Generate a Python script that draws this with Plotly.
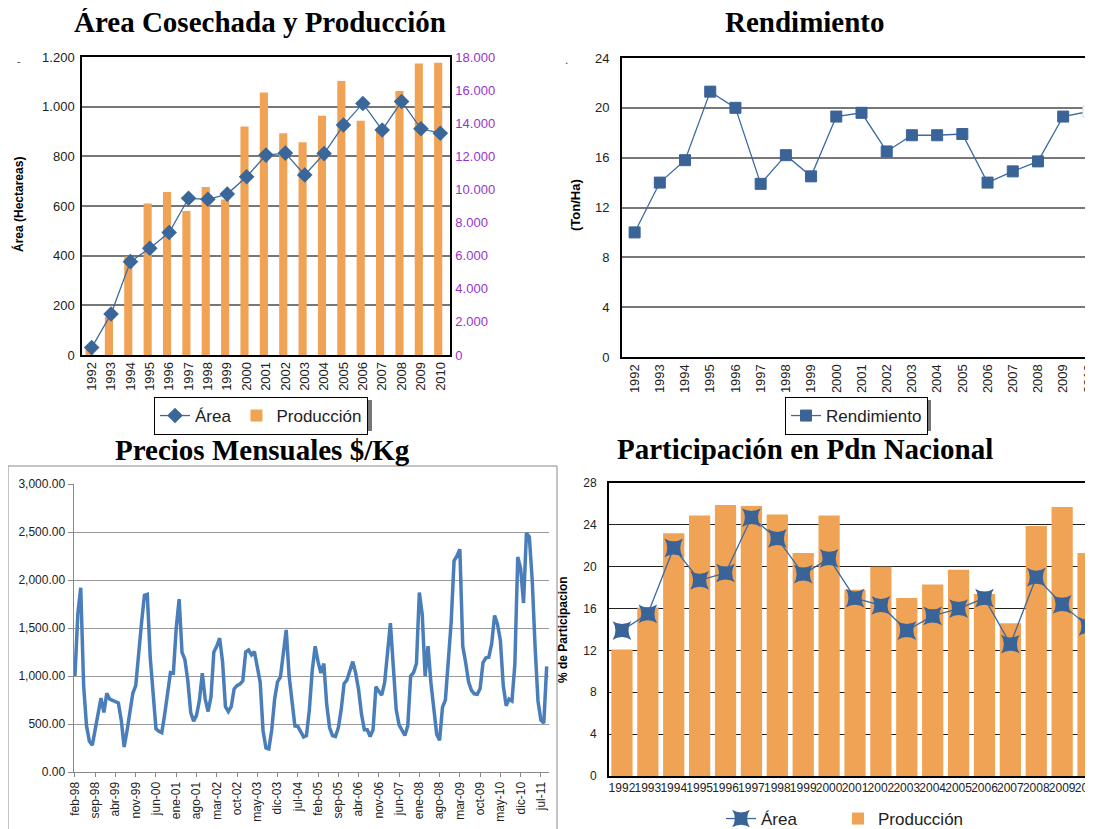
import plotly.graph_objects as go

W, H = 1093, 829
BODY = 8  # margen por defecto del <body> en la pagina

# --- datos -------------------------------------------------------------
anios = ['1992', '1993', '1994', '1995', '1996', '1997', '1998', '1999', '2000', '2001',
         '2002', '2003', '2004', '2005', '2006', '2007', '2008', '2009', '2010']

area_ha = [30, 165, 376, 430, 493, 631, 627, 648, 718, 805,
           813, 725, 811, 926, 1013, 906, 1021, 911, 893]
produccion_t = [350, 2300, 5950, 9150, 9850, 8700, 10150, 9400, 13800, 15850,
                13400, 12850, 14450, 16550, 14150, 13500, 15950, 17600, 17650]

rendimiento = [10.0, 14.0, 15.8, 21.3, 20.0, 13.9, 16.2, 14.5, 19.3, 19.6,
               16.5, 17.8, 17.8, 17.9, 14.0, 14.9, 15.7, 19.3, 19.7]

part_produccion = [12.1, 16.1, 23.2, 24.9, 25.9, 25.8, 25.0, 21.3, 24.9, 17.8,
                   20.0, 17.0, 18.3, 19.7, 17.4, 14.6, 23.9, 25.7, 21.3]
part_area = [13.9, 15.5, 21.8, 18.7, 19.4, 24.7, 22.7, 19.3, 20.8, 17.0,
             16.3, 13.9, 15.3, 16.0, 17.0, 12.6, 19.0, 16.4, 14.3]

# precios mensuales $/Kg desde feb-98
precios = [1000, 1650, 1920, 900, 480, 320, 280, 450, 640, 770, 620, 820,
           760, 745, 735, 720, 540, 260, 430, 600, 820, 900, 1250, 1550,
           1840, 1850, 1200, 800, 450, 425, 410, 600, 850, 1035, 1030, 1500,
           1800, 1245, 1170, 950, 620, 530, 590, 744, 1030, 760, 630, 780,
           1250, 1310, 1394, 1150, 680, 630, 680, 865, 900, 915, 950, 1250,
           1270, 1220, 1255, 1090, 935, 430, 250, 240, 440, 760, 940, 990,
           1270, 1480, 1000, 700, 480, 475, 410, 365, 380, 650, 1060, 1310,
           1150, 1030, 1130, 700, 460, 380, 370, 460, 650, 920, 960, 1060,
           1150, 1030, 860, 605, 440, 440, 370, 440, 890, 840, 800, 930,
           1200, 1550, 1100, 650, 490, 440, 380, 480, 1000, 1035, 1130, 1870,
           1640, 1000, 1310, 930, 620, 390, 330, 675, 750, 1130, 1560, 2200,
           2250, 2320, 1310, 1140, 940, 850, 815, 810, 870, 1140, 1190, 1195,
           1340, 1630, 1540, 1370, 900, 690, 760, 740, 1120, 2240, 2120, 1760,
           2490, 2450, 2000, 1300, 740, 540, 510, 1100]

meses = ['ene', 'feb', 'mar', 'abr', 'may', 'jun', 'jul', 'ago', 'sep', 'oct', 'nov', 'dic']
etiquetas_mes = []
for k in range(len(precios)):
    m = (1 + k) % 12
    a = (98 + (1 + k) // 12) % 100
    etiquetas_mes.append('%s-%02d' % (meses[m], a))

area_ticks = [0, 200, 400, 600, 800, 1000, 1200]
area_ticktext = ['0', '200', '400', '600', '800', '1.000', '1.200']
prod_ticks = [0, 2000, 4000, 6000, 8000, 10000, 12000, 14000, 16000, 18000]
prod_ticktext = ['0', '2.000', '4.000', '6.000', '8.000', '10.000', '12.000', '14.000', '16.000', '18.000']


def px(x):
    return (x - BODY) / W


def py(y):
    return 1 - (y - BODY) / H


AZUL = '#3b6aa0'
NARANJA = '#f0a354'
SANS = 'Liberation Sans'
SERIF = 'Liberation Serif'

fig = go.Figure()

# panel 1: area cosechada y produccion (barras en el eje base, linea encima)
fig.add_trace(go.Bar(x=anios, y=produccion_t, name='Producción', xaxis='x', yaxis='y',
                     width=0.42, offset=-0.32, marker=dict(color=NARANJA, line_width=0),
                     legend='legend', legendrank=2))
fig.add_trace(go.Scatter(x=anios, y=area_ha, name='Área', xaxis='x', yaxis='y2',
                         mode='lines+markers', line=dict(color=AZUL, width=1.3),
                         marker=dict(symbol='diamond', size=12, color='#3a6699'),
                         legend='legend', legendrank=1))

# panel 2: rendimiento
fig.add_trace(go.Scatter(x=anios, y=rendimiento, name='Rendimiento', xaxis='x2', yaxis='y4',
                         mode='lines+markers', line=dict(color=AZUL, width=1.3),
                         marker=dict(symbol='square', size=11,
                                     color=['#3a6398'] * (len(anios) - 1) + ['white'],
                                     line=dict(color=['#3a6398'] * (len(anios) - 1) + ['#dddddd'], width=1)),
                         legend='legend2'))

# panel 3: precios mensuales
fig.add_trace(go.Scatter(x=etiquetas_mes, y=precios, xaxis='x3', yaxis='y5', mode='lines',
                         line=dict(color='#4a7ebb', width=3.5), showlegend=False))

# panel 4: participacion
fig.add_trace(go.Bar(x=anios, y=part_produccion, name='Producción', xaxis='x4', yaxis='y6',
                     width=0.82, marker=dict(color=NARANJA, line_width=0), legend='legend4'))
fig.add_trace(go.Scatter(x=anios, y=part_area, name='Área', xaxis='x4', yaxis='y6',
                         mode='lines+markers', line=dict(color=AZUL, width=1.3),
                         marker=dict(symbol='star-square', size=17, color='#3a6398'),
                         legend='legend3'))

tick = dict(family=SANS, size=13, color='#222')
leyenda_font = dict(family=SANS, size=17, color='#222')

fig.update_layout(
    width=W, height=H, margin=dict(l=0, r=0, t=0, b=0, autoexpand=False),
    paper_bgcolor='white', plot_bgcolor='white',
    font=dict(family=SANS, color='#222'),
    xaxis=dict(domain=[px(82), px(450)], anchor='y', type='category', range=[-0.5, 18.5],
               tickangle=-90, tickfont=tick, showline=True, mirror=True, linecolor='black',
               linewidth=1.5, showgrid=False, ticks=''),
    yaxis=dict(domain=[py(355), py(57)], anchor='x', side='right', range=[0, 18000],
               tickvals=prod_ticks, ticktext=prod_ticktext,
               tickfont=dict(family=SANS, size=13, color='#9933cc'),
               showgrid=False, zeroline=False, showline=True, linecolor='black', linewidth=1.5,
               ticks='outside', ticklen=1, tickcolor='rgba(0,0,0,0)'),
    yaxis2=dict(overlaying='y', anchor='x', side='left', range=[0, 1200], tickvals=area_ticks,
                ticktext=area_ticktext, tickfont=tick, showgrid=True, gridcolor='#777',
                gridwidth=1.5, zeroline=False, showline=True, linecolor='black', linewidth=1.5,
                ticks='outside', ticklen=3, tickcolor='rgba(0,0,0,0)'),

    xaxis2=dict(domain=[px(622), 1], anchor='y4', type='category', range=[-0.5, 18.5],
                tickangle=-90, tickfont=tick, showline=True, mirror=True, linecolor='black',
                linewidth=2, showgrid=False, ticks=''),
    yaxis4=dict(domain=[py(357), py(58)], anchor='x2', range=[0, 24], dtick=4, tickfont=tick,
                showgrid=True, gridcolor='#777', gridwidth=1.5, zeroline=False, showline=True,
                linecolor='black', linewidth=2, ticks='outside', ticklen=8,
                tickcolor='rgba(0,0,0,0)'),

    xaxis3=dict(domain=[px(73.5), px(549)], anchor='y5', type='category', range=[-0.5, 163.8],
                tickmode='array', tickvals=etiquetas_mes[::7], tickangle=-90,
                tickfont=dict(family=SANS, size=12, color='#222'), showline=True,
                linecolor='#888', showgrid=False, ticks='outside', ticklen=4, tickcolor='#888'),
    yaxis5=dict(domain=[py(772), py(484)], anchor='x3', range=[0, 3000], dtick=500,
                tickformat=',.2f', tickfont=dict(family=SANS, size=12, color='#222'),
                showgrid=True, gridcolor='#999', zeroline=False, showline=True, linecolor='#888',
                ticks='outside', ticklen=5, tickcolor='#888'),

    xaxis4=dict(domain=[px(609), 1], anchor='y6', type='category', range=[-0.5, 18.5],
                tickangle=0, tickfont=dict(family=SANS, size=12, color='#222'), showline=True,
                mirror=True, linecolor='black', linewidth=2, showgrid=False, ticks=''),
    yaxis6=dict(domain=[py(776), py(483)], anchor='x4', range=[0, 28], dtick=4,
                tickfont=dict(family=SANS, size=12, color='#222'), showgrid=True,
                gridcolor='#222', gridwidth=1, zeroline=False, showline=True, linecolor='black',
                linewidth=2, ticks='outside', ticklen=8, tickcolor='rgba(0,0,0,0)'),

    legend=dict(x=px(154), y=py(397), xanchor='left', yanchor='top', orientation='h',
                bordercolor='black', borderwidth=1, bgcolor='white', font=leyenda_font),
    legend2=dict(x=px(785), y=py(397), xanchor='left', yanchor='top', orientation='h',
                 bordercolor='black', borderwidth=1, bgcolor='white', font=leyenda_font),
    legend3=dict(x=px(721), y=py(801), xanchor='left', yanchor='top', orientation='h',
                 bgcolor='rgba(0,0,0,0)', font=leyenda_font),
    legend4=dict(x=px(838), y=py(801), xanchor='left', yanchor='top', orientation='h',
                 bgcolor='rgba(0,0,0,0)', font=leyenda_font),
    showlegend=True,
)

titulos = [
    ('Área Cosechada y Producción', 260, 22),
    ('Rendimiento', 805, 22),
    ('Precios Mensuales $/Kg', 262, 450),
    ('Participación en Pdn Nacional', 805, 449),
]
for txt, x, y in titulos:
    fig.add_annotation(text='<b>%s</b>' % txt, x=px(x), y=py(y), xref='paper', yref='paper',
                       xanchor='center', yanchor='middle', showarrow=False,
                       font=dict(family=SERIF, size=29, color='black'))

ejes = [
    ('Área (Hectareas)', 18, 205, 12),
    ('(Ton/Ha)', 575, 205, 13),
    ('% de Participacion', 563, 630, 12),
]
for txt, x, y, s in ejes:
    fig.add_annotation(text='<b>%s</b>' % txt, x=px(x), y=py(y), xref='paper', yref='paper',
                       xanchor='center', yanchor='middle', showarrow=False, textangle=-90,
                       font=dict(family=SANS, size=s, color='black'))

# marcas sueltas del original
fig.add_annotation(text='-', x=px(18), y=py(62), xref='paper', yref='paper', showarrow=False,
                   xanchor='center', yanchor='middle', font=dict(family=SANS, size=10, color='#444'))
fig.add_annotation(text='.', x=px(566), y=py(60), xref='paper', yref='paper', showarrow=False,
                   xanchor='center', yanchor='middle', font=dict(family=SANS, size=12, color='#444'))

# sombra de los recuadros de leyenda
for x0, x1 in [(157, 372), (788, 931)]:
    fig.add_shape(type='rect', xref='paper', yref='paper', x0=px(x0), x1=px(x1),
                  y0=py(431), y1=py(400), line_width=0, fillcolor='#777', layer='above')

# recuadro del grafico de precios
fig.add_shape(type='rect', xref='paper', yref='paper', x0=px(8), x1=px(557), y0=-0.02, y1=py(466),
              line=dict(color='#888', width=1), layer='below')

fig.write_html('out.html')
